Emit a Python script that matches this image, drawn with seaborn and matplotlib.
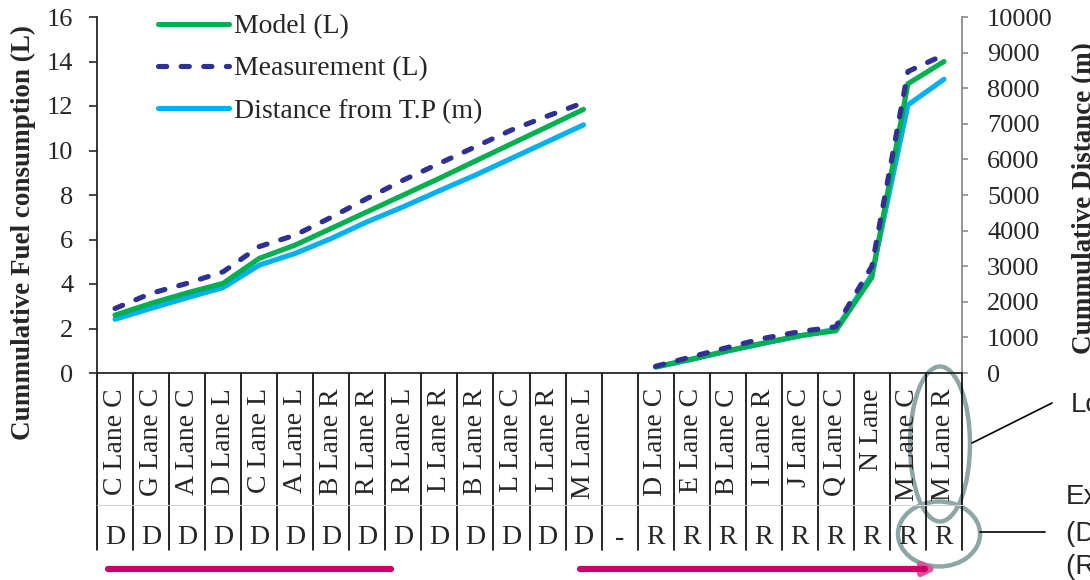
"""Cumulative fuel consumption and distance along the D and R trips."""

import matplotlib.pyplot as plt
import numpy as np
import pandas as pd
import seaborn as sns
from matplotlib.lines import Line2D
from matplotlib.patches import Ellipse

# upper label row (lane position) and lower row (direction)
CATEGORIES = [
    "C Lane C", "G Lane C", "A Lane C", "D Lane L", "C Lane L", "A Lane L",
    "B Lane R", "R Lane R", "R Lane L", "L Lane R", "B Lane R", "L Lane C",
    "L Lane R", "M Lane L", "",
    "D Lane C", "E Lane C", "B Lane C", "I Lane R", "J Lane C", "Q Lane C",
    "N Lane", "M Lane C", "M Lane R",
]
DIRECTIONS = [
    "D", "D", "D", "D", "D", "D", "D", "D", "D", "D", "D", "D", "D", "D", "-",
    "R", "R", "R", "R", "R", "R", "R", "R", "R",
]

# trip D (first 14 categories)
MODEL_D = [2.60, 3.13, 3.60, 4.03, 5.15, 5.75, 6.50, 7.25, 8.00, 8.75, 9.53, 10.30, 11.07, 11.85]
MEAS_D = [2.90, 3.58, 4.03, 4.55, 5.68, 6.20, 7.00, 7.85, 8.67, 9.42, 10.17, 10.92, 11.55, 12.15]
DIST_D = [1510, 1817, 2115, 2400, 3030, 3360, 3780, 4250, 4670, 5120, 5560, 6030, 6500, 6970]

# trip R (last 9 categories)
MODEL_R = [0.27, 0.62, 1.00, 1.35, 1.68, 1.90, 4.30, 13.00, 14.00]
MEAS_R = [0.30, 0.73, 1.15, 1.56, 1.86, 2.08, 4.80, 13.55, 14.30]
DIST_R = [170, 385, 618, 835, 1040, 1228, 2760, 7530, 8250]

GREEN = "#00B050"
NAVY = "#2E3192"
SKY = "#00B0F0"
MAGENTA = "#CC0066"
CALLOUT = "#8EA6A6"

W, H = 1090, 580


def px(x):
    return x / W


def py(y):
    return 1 - y / H


def build_frame():
    n_d, n_r = len(MODEL_D), len(MODEL_R)
    pos = list(range(n_d)) + list(range(len(CATEGORIES) - n_r, len(CATEGORIES)))
    return pd.DataFrame({
        "pos": pos,
        "trip": ["D"] * n_d + ["R"] * n_r,
        "model": MODEL_D + MODEL_R,
        "measurement": MEAS_D + MEAS_R,
        "distance": DIST_D + DIST_R,
    })


def draw_category_table(ax):
    n = len(CATEGORIES)
    trans = ax.get_xaxis_transform()
    y_bottom = (373 - 550) / 356
    y_mid = (373 - 505) / 356
    for b in np.arange(n + 1) - 0.5:
        ax.plot([b, b], [0, y_bottom], color="black", lw=1.2, transform=trans, clip_on=False)
    ax.plot([-0.5, n - 0.5], [y_mid, y_mid], color="#D0D0D0", lw=0.8,
            transform=trans, clip_on=False)
    for i, (lab, d) in enumerate(zip(CATEGORIES, DIRECTIONS)):
        if lab:
            ax.text(i, (373 - 388) / 356, lab, rotation=90, ha="center", va="top",
                    fontsize=20, transform=trans)
        ax.text(i, (373 - 538) / 356, d, ha="center", va="center", fontsize=20,
                transform=trans)


def main():
    sns.set_style("ticks")
    plt.rcParams["font.family"] = ["Liberation Serif", "DejaVu Serif"]

    df = build_frame()
    fig = plt.figure(figsize=(W / 100, H / 100), dpi=100)
    ax = fig.add_axes([px(97), py(373), (962 - 97) / W, (373 - 17) / H])
    ax2 = ax.twinx()

    common = dict(x="pos", units="trip", estimator=None, lw=3.7,
                  solid_capstyle="round", dash_capstyle="round")
    sns.lineplot(data=df, y="distance", color=SKY, ax=ax2, **common)
    sns.lineplot(data=df, y="model", color=GREEN, ax=ax, **common)
    sns.lineplot(data=df, y="measurement", color=NAVY, ax=ax,
                 linestyle=(0, (1.6, 2.8)), **common)
    ax.set_zorder(ax2.get_zorder() + 1)
    ax.patch.set_visible(False)

    ax.set_xlim(-0.5, len(CATEGORIES) - 0.5)
    ax.set_ylim(0, 16)
    ax.set_yticks(np.arange(0, 17, 2))
    ax2.set_ylim(0, 10000)
    ax2.set_yticks(np.arange(0, 10001, 1000))
    ax.set_xticks([])
    ax.set_xlabel("")

    for a in (ax, ax2):
        a.spines["top"].set_visible(False)
    ax.spines["right"].set_visible(False)
    ax2.spines["left"].set_visible(False)
    ax2.spines["bottom"].set_visible(False)
    ax.spines["left"].set_linewidth(1.3)
    ax.spines["bottom"].set_linewidth(1.3)
    ax2.spines["right"].set_color("#8C8C8C")
    ax2.spines["right"].set_linewidth(1.3)

    ax.tick_params(axis="y", direction="out", length=6, width=1.2, pad=11, labelsize=19)
    ax2.tick_params(axis="y", direction="out", length=4, width=1.2, color="#8C8C8C",
                    pad=14, labelsize=19)

    ax.set_ylabel("Cummulative Fuel consumption (L)", fontsize=19.5, fontweight="bold")
    ax.yaxis.label.set_va("center")
    ax.yaxis.set_label_coords((23 - 97) / 865, 0.396)
    ax2.set_ylabel("Cummulative Distance (m)", fontsize=19.5, fontweight="bold", rotation=90)
    ax2.yaxis.label.set_va("center")
    ax2.yaxis.set_label_coords((1085 - 97) / 865, 0.49)

    draw_category_table(ax)

    handles = [
        Line2D([], [], color=GREEN, lw=3.7, solid_capstyle="round"),
        Line2D([], [], color=NAVY, lw=3.7, ls=(0, (1.6, 2.8)), dash_capstyle="round"),
        Line2D([], [], color=SKY, lw=3.7, solid_capstyle="round"),
    ]
    fig.legend(handles, ["Model (L)", "Measurement (L)", "Distance from T.P (m)"],
               loc="upper left", bbox_to_anchor=(px(158), py(14)), frameon=False,
               fontsize=20, handlelength=2.55, handletextpad=0.2, labelspacing=0.6,
               borderpad=0, borderaxespad=0)

    # direction bars under the table
    fig.add_artist(Line2D([px(108), px(391)], [py(569), py(569)], color=MAGENTA, lw=4.5,
                          transform=fig.transFigure))
    fig.add_artist(Line2D([px(580), px(925)], [py(569), py(569)], color=MAGENTA, lw=4.5,
                          transform=fig.transFigure))
    ax.annotate("", xy=(px(940), py(569)), xytext=(px(915), py(569)),
                xycoords="figure fraction", textcoords="figure fraction",
                arrowprops=dict(arrowstyle="-|>", color="#E0529A", lw=4.5, mutation_scale=18))

    # callouts
    fig.add_artist(Ellipse((px(940), py(444)), 60 / W, 155 / H, transform=fig.transFigure,
                           fill=False, ec=CALLOUT, lw=3.2))
    fig.add_artist(Ellipse((px(939), py(534)), 82 / W, 65 / H, transform=fig.transFigure,
                           fill=False, ec=CALLOUT, lw=3.2))
    fig.add_artist(Line2D([px(972), px(1052)], [py(443), py(403)], color="black", lw=1.2,
                          transform=fig.transFigure))
    fig.add_artist(Line2D([px(980), px(1045)], [py(532), py(532)], color="black", lw=1.2,
                          transform=fig.transFigure))
    sans = ["Liberation Sans", "DejaVu Sans"]
    fig.text(px(1071), py(405), "Location", family=sans, fontsize=20, va="center")
    fig.text(px(1066), py(497), "Experiment", family=sans, fontsize=20, va="center")
    fig.text(px(1066), py(534), "(D: departure)", family=sans, fontsize=20, va="center")
    fig.text(px(1066), py(567), "(R: return)", family=sans, fontsize=20, va="center")

    fig.savefig("out.png", dpi=100)
    plt.close(fig)


if __name__ == "__main__":
    main()
